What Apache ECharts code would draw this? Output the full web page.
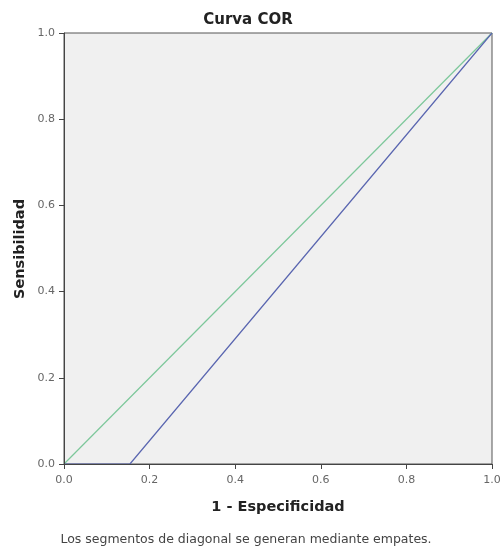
<!DOCTYPE html>
<html><head><meta charset="utf-8">
<script src="https://cdn.jsdelivr.net/npm/echarts@6/dist/echarts.min.js"></script>
<style>html,body{margin:0;padding:0;background:#fff}#c{width:500px;height:549px}</style>
</head><body><div id="c"></div>
<script>
const titleText = "Curva COR";
const xName = "1 - Especificidad";
const yName = "Sensibilidad";
const footnote = "Los segmentos de diagonal se generan mediante empates.";
const ticks = [0, 0.2, 0.4, 0.6, 0.8, 1.0];
const rocX = [0, 0.154, 1];
const rocY = [0, 0, 1];
const refX = [0, 1];
const refY = [0, 1];

const chart = echarts.init(document.getElementById('c'));
const font = '"DejaVu Sans", Arial, sans-serif';
chart.setOption({
  animation: false,
  backgroundColor: '#fff',
  grid: {left: 64, right: 8, top: 33, bottom: 85, outerBoundsMode: 'none', containLabel: false, show: true, backgroundColor: '#f0f0f0', borderColor: '#555', borderWidth: 1},
  xAxis: {type: 'value', min: 0, max: 1, interval: 0.2, z: 5,
    axisLine: {show: true, lineStyle: {color: '#444'}},
    axisTick: {show: true, inside: false, length: 5, lineStyle: {color: '#444'}},
    splitLine: {show: false},
    axisLabel: {color: '#666', fontFamily: font, fontSize: 11, margin: 11, formatter: v => v.toFixed(1)}},
  yAxis: {type: 'value', min: 0, max: 1, interval: 0.2, z: 5,
    axisLine: {show: true, lineStyle: {color: '#444'}},
    axisTick: {show: true, inside: false, length: 5, lineStyle: {color: '#444'}},
    splitLine: {show: false},
    axisLabel: {color: '#666', fontFamily: font, fontSize: 11, margin: 9, formatter: v => v.toFixed(1)}},
  series: [
    {type: 'line', data: refX.map((x, i) => [x, refY[i]]), symbol: 'none', lineStyle: {color: '#7cc79a', width: 1.2}, z: 3},
    {type: 'line', data: rocX.map((x, i) => [x, rocY[i]]), symbol: 'none', lineStyle: {color: '#5a66b0', width: 1.2}, z: 4}
  ],
  graphic: [
    {type: 'text', style: {text: titleText, font: 'bold 15px ' + font, fill: '#222', textAlign: 'center', textVerticalAlign: 'middle'}, x: 248, y: 20},
    {type: 'text', style: {text: xName, font: 'bold 14.5px ' + font, fill: '#222', textAlign: 'center', textVerticalAlign: 'middle'}, x: 278, y: 507},
    {type: 'text', style: {text: yName, font: 'bold 14.5px ' + font, fill: '#222', textAlign: 'center', textVerticalAlign: 'middle'}, x: 20, y: 249, rotation: Math.PI / 2},
    {type: 'text', style: {text: footnote, font: '12.5px ' + font, fill: '#444', textAlign: 'center', textVerticalAlign: 'middle'}, x: 246, y: 540}
  ]
});
</script></body></html>
